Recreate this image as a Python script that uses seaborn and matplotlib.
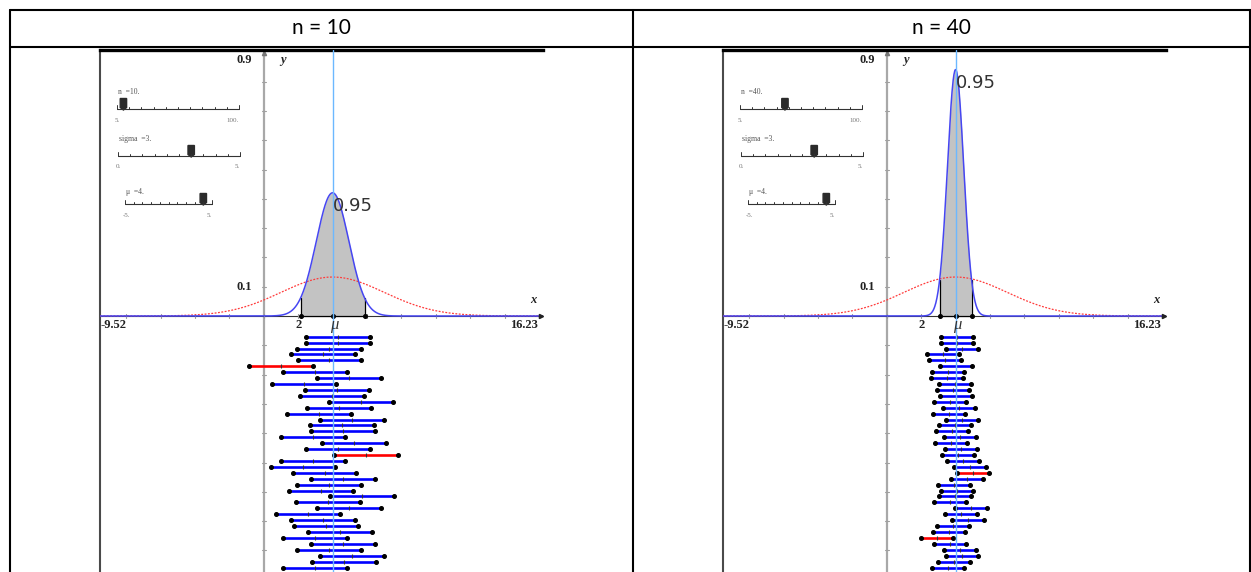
import numpy as np
import pandas as pd
import matplotlib
matplotlib.use("Agg")
import matplotlib.pyplot as plt
import seaborn as sns
from matplotlib.lines import Line2D
from matplotlib.patches import Polygon

# --- Dados ---
MU = 4.0
SIGMA = 3.0
N_VALUES = [10, 40]
HEADERS = ["n = 10", "n = 40"]
X_MIN, X_MAX = -9.52, 16.23
CONF_LABEL = "0.95"
Z_95 = 1.96

# médias amostrais (centro de cada intervalo), de cima para baixo
centers_n10 = [4.32, 4.32, 3.81, 3.47, 3.82, 0.98, 3.00, 4.98, 2.34, 4.26,
               3.96, 5.67, 4.35, 3.22, 5.10, 4.53, 4.59, 2.88, 5.24, 4.32,
               5.92, 2.88, 2.29, 3.53, 4.59, 3.81, 3.34, 5.73, 3.73, 4.94,
               2.59, 3.44, 3.61, 4.41, 2.98, 4.61, 3.79, 5.10, 4.65, 2.96]
centers_n40 = [4.07, 4.07, 4.38, 3.26, 3.41, 4.03, 3.55, 3.51, 3.99, 3.84,
               4.03, 3.69, 4.19, 3.60, 4.38, 3.94, 3.80, 4.27, 3.74, 4.33,
               4.13, 4.42, 4.81, 5.04, 4.65, 3.88, 4.07, 3.99, 3.69, 4.87,
               4.29, 4.71, 3.84, 3.59, 2.91, 3.65, 4.23, 4.38, 3.88, 3.55]
CENTERS = [centers_n10, centers_n40]

# sliders: nome, mínimo, máximo, rótulos dos extremos
slider_names = ["n", "sigma", "\u03bc"]
slider_min = [5, 0, -5]
slider_max = [100, 5, 5]
slider_end_labels = [("5.", "100."), ("0.", "5."), ("-5.", "5.")]

# --- Layout (pixels) ---
W, H = 1251, 572
PANEL_LEFT = [100, 723]
PANEL_W, PANEL_TOP = 443, 49.5
PANEL_H = 572 - PANEL_TOP
ROW0, ROW_STEP = -0.0706, 0.0202
Y_TOP = (316 - PANEL_TOP) / 293.0
Y_BOT = (316 - 572) / 293.0
# x0, x1, y da trilha, y do rótulo (offset em px dentro da imagem)
SLIDER_LAYOUT = [(17, 139, 59.5, 42.5), (18, 140, 106.5, 89.5), (25, 112, 154.5, 143)]

SERIF = ["Liberation Serif", "DejaVu Serif"]


def fpx(x, y):
    return x / W, 1 - y / H


def axf(dx, dy):
    # offset em pixels dentro do painel -> fração do eixo
    return dx / PANEL_W, 1 - dy / PANEL_H


def npdf(x, m, s):
    return np.exp(-0.5 * ((x - m) / s) ** 2) / (s * np.sqrt(2 * np.pi))


def draw_slider(ax, i, value):
    x0, x1, yt, yl = SLIDER_LAYOUT[i]
    kw = dict(transform=ax.transAxes, clip_on=False)
    ax.plot(*zip(axf(x0, yt), axf(x1, yt)), color="#333333", lw=0.8, **kw)
    for k in range(11):
        xx = x0 + (x1 - x0) * k / 10
        h = 4 if k in (0, 10) else 2.2
        ax.plot(*zip(axf(xx, yt), axf(xx, yt - h)), color="#333333", lw=0.7, **kw)
    frac = (value - slider_min[i]) / (slider_max[i] - slider_min[i])
    xc = x0 + (x1 - x0) * frac
    pts = [axf(xc - 3.2, yt - 10.5), axf(xc + 3.2, yt - 10.5), axf(xc + 3.2, yt - 1.5),
           axf(xc, yt + 1), axf(xc - 3.2, yt - 1.5)]
    ax.add_patch(Polygon(pts, closed=True, color="#2b2b2b", **kw))
    vtxt = f"{slider_names[i]}  ={value:g}."
    ax.text(*axf(x0 + 1, yl), vtxt, fontsize=5.5, color="#555555", family=SERIF,
            va="center", ha="left", **kw)
    lo, hi = slider_end_labels[i]
    ax.text(*axf(x0 - 2, yt + 11), lo, fontsize=5, color="#777777", family=SERIF,
            va="center", ha="left", **kw)
    ax.text(*axf(x1, yt + 11), hi, fontsize=5, color="#777777", family=SERIF,
            va="center", ha="right", **kw)


def draw_panel(ax, n, centers):
    se = SIGMA / np.sqrt(n)
    half = Z_95 * se
    lo, hi = MU - half, MU + half

    xs = np.linspace(X_MIN, X_MAX, 1200)
    df = pd.DataFrame({"x": xs, "pop": npdf(xs, MU, SIGMA), "samp": npdf(xs, MU, se)})

    # eixo y cinza com marcas
    ax.plot([0, 0], [Y_BOT, Y_TOP], color="#a8a8a8", lw=1.6, zorder=1)
    for t in np.arange(-0.8, 0.85, 0.1):
        ax.plot([-0.13, 0.13], [t, t], color="#a0a0a0", lw=0.8, zorder=1)
    ax.plot([0], [0.897], marker="^", color="#777777", ms=3, zorder=2)
    # eixo x
    ax.plot([X_MIN, X_MAX], [0, 0], color="#333333", lw=0.8, zorder=1)
    for t in np.arange(-8, 16.1, 2):
        ax.plot([t, t], [-0.006, 0.006], color="#999999", lw=0.8, zorder=1)
    ax.plot([X_MAX - 0.1], [0], marker=">", color="#222222", ms=3, zorder=6, clip_on=False)

    # área sombreada do intervalo de 95%
    sub = df[(df["x"] >= lo) & (df["x"] <= hi)]
    ax.fill_between(sub["x"], 0, sub["samp"], color="#c3c3c3", zorder=2, lw=0)
    ax.plot([lo, lo], [0, npdf(lo, MU, se)], color="black", lw=0.9, zorder=3)
    ax.plot([hi, hi], [0, npdf(hi, MU, se)], color="black", lw=0.9, zorder=3)

    sns.lineplot(data=df, x="x", y="pop", ax=ax, color="#ff3b3b", lw=0.9,
                 linestyle=(0, (1.5, 1.2)), zorder=4, sort=False, estimator=None)
    sns.lineplot(data=df, x="x", y="samp", ax=ax, color="#4646f2", lw=1.1,
                 zorder=4, sort=False, estimator=None)
    ax.plot([lo, hi], [0, 0], color="black", lw=0.9, zorder=5)
    ax.plot([lo, MU, hi], [0, 0, 0], "o", color="black", ms=2.6, zorder=6)

    # intervalos de confiança
    for k, c in enumerate(centers):
        y = ROW0 - ROW_STEP * k
        col = "#0000ff" if (c - half) <= MU <= (c + half) else "#ff0000"
        ax.plot([c - half, c + half], [y, y], color=col, lw=1.9, zorder=5,
                solid_capstyle="butt")
        ax.plot([c - half, c + half], [y, y], "o", color="black", ms=2.6, zorder=6)
        ax.plot([c], [y], marker="|", color="#333333", ms=3.5, mew=0.8, zorder=6)

    ax.axvline(MU, color="#6cb8ff", lw=1.0, zorder=7)

    # textos
    peak = npdf(MU, MU, se)
    ax.text(MU + 0.02, peak - 0.045, CONF_LABEL, fontsize=13, color="#333333",
            ha="left", va="center", zorder=8, family=["DejaVu Sans"])
    ax.text(MU + 0.12, -0.005, "\u03bc", fontsize=12, style="italic", color="#333333",
            ha="center", va="top", zorder=8, family=SERIF)
    bold = dict(fontsize=9, fontweight="bold", color="#222222", family=SERIF, zorder=8)
    ax.text(X_MIN + 0.05, -0.031, "-9.52", ha="left", va="center", **bold)
    ax.text(X_MAX - 0.3, -0.031, "16.23", ha="right", va="center", **bold)
    ax.text(2.0, -0.031, "2", ha="center", va="center", **bold)
    ax.text(-0.7, 0.099, "0.1", ha="right", va="center", **bold)
    ax.text(-0.7, 0.874, "0.9", ha="right", va="center", **bold)
    ax.text(15.65, 0.055, "x", ha="center", va="center", style="italic", **bold)
    ax.text(1.12, 0.874, "y", ha="center", va="center", style="italic", **bold)

    for i, v in enumerate([n, SIGMA, MU]):
        draw_slider(ax, i, v)

    ax.set_xlim(X_MIN, X_MAX)
    ax.set_ylim(Y_BOT, Y_TOP)
    ax.set_xticks([])
    ax.set_yticks([])
    ax.set_xlabel("")
    ax.set_ylabel("")
    for s in ["right", "bottom"]:
        ax.spines[s].set_visible(False)
    ax.spines["top"].set_color("black")
    ax.spines["top"].set_linewidth(2.4)
    ax.spines["left"].set_color("#4a4a4a")
    ax.spines["left"].set_linewidth(1.5)


def main():
    sns.set_theme(style="white")
    plt.rcParams["font.family"] = ["DejaVu Sans"]
    fig = plt.figure(figsize=(W / 100, H / 100), dpi=100)

    # linhas da tabela
    tk = dict(color="black", lw=1.5)
    fig.add_artist(Line2D(*zip(fpx(9.5, 10), fpx(1251, 10)), **tk))
    fig.add_artist(Line2D(*zip(fpx(9.5, 46.5), fpx(1251, 46.5)), **tk))
    for xv in [10, 633, 1249.5]:
        fig.add_artist(Line2D(*zip(fpx(xv, 9.5), fpx(xv, 572)), **tk))

    cell_centers = [321.5, 941.5]
    for h, cx in zip(HEADERS, cell_centers):
        fig.text(*fpx(cx, 28), h, fontsize=15, family=["Lato", "DejaVu Sans"],
                 ha="center", va="center", color="black")

    for left, n, centers in zip(PANEL_LEFT, N_VALUES, CENTERS):
        ax = fig.add_axes([left / W, 0, PANEL_W / W, PANEL_H / H])
        ax.set_facecolor("white")
        draw_panel(ax, n, centers)

    fig.savefig("out.png", dpi=100)
    plt.close(fig)


if __name__ == "__main__":
    main()
